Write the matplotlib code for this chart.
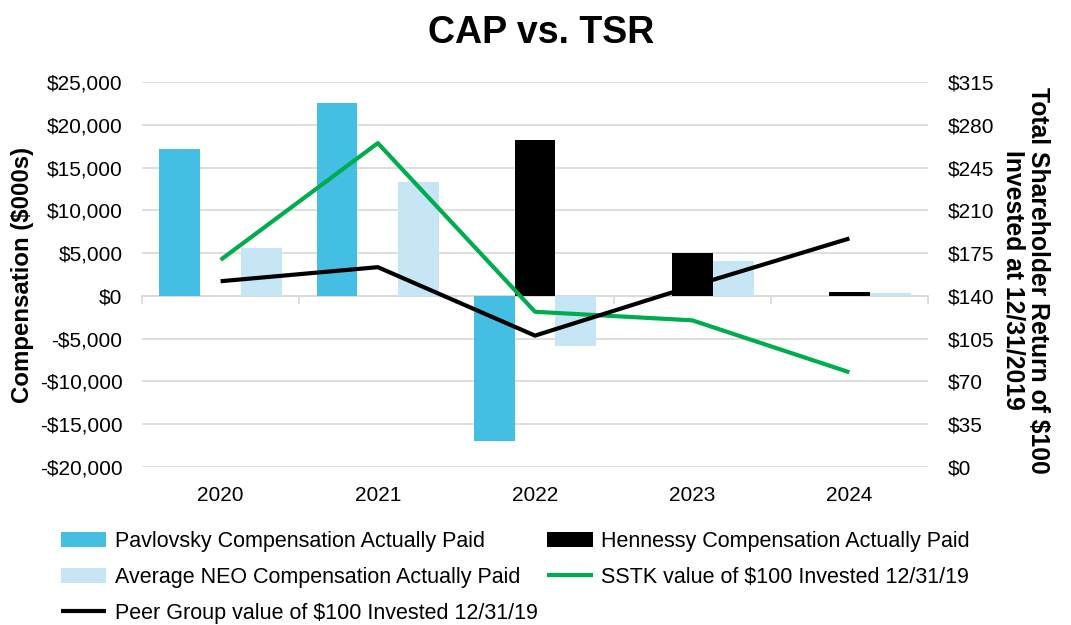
import matplotlib
matplotlib.use("Agg")
import matplotlib.pyplot as plt
import numpy as np
from matplotlib.ticker import FuncFormatter, MultipleLocator

plt.rcParams['font.family'] = ['Liberation Sans', 'DejaVu Sans']

years = ["2020", "2021", "2022", "2023", "2024"]
pavlovsky = [17150, 22500, -17000, np.nan, np.nan]
hennessy = [np.nan, np.nan, 18200, 5000, 400]
avg_neo = [5600, 13350, -5800, 4100, 300]
sstk = [169.5, 265, 127, 120, 77.5]
peer = [152, 163.5, 107.5, 148, 187]

c_pav = "#45BEE3"
c_neo = "#C6E6F6"
c_hen = "#000000"
c_sstk = "#00AD4E"
c_peer = "#000000"

fig = plt.figure(figsize=(10.71, 6.25), dpi=100)
ax = fig.add_axes([0.1326, 0.2528, 0.7339, 0.616])
ax2 = ax.twinx()

x = np.arange(len(years))
w = 0.26
b1 = ax.bar(x - w, pavlovsky, w, color=c_pav, zorder=2, label="Pavlovsky Compensation Actually Paid")
b2 = ax.bar(x, hennessy, w, color=c_hen, zorder=2, label="Hennessy Compensation Actually Paid")
b3 = ax.bar(x + w, avg_neo, w, color=c_neo, zorder=2, label="Average NEO Compensation Actually Paid")

l1, = ax2.plot(x, sstk, color=c_sstk, lw=3, solid_capstyle='butt', label="SSTK value of $100 Invested 12/31/19")
l2, = ax2.plot(x, peer, color=c_peer, lw=3, solid_capstyle='butt', label="Peer Group value of $100 Invested 12/31/19")

ymin, ymax = -20000, 25000
ax.set_ylim(ymin, ymax)
ax.set_xlim(-0.5, len(years) - 0.5)
ax.yaxis.set_major_locator(MultipleLocator(5000))
ax.yaxis.set_major_formatter(FuncFormatter(lambda v, p: ("-$" if v < 0 else "$") + f"{abs(int(v)):,}"))
ax.grid(axis='y', color='#D9D9D9', lw=1.2, zorder=0)
ax.set_axisbelow(True)
ax.set_xticks(x)
ax.set_xticklabels(years)
ax.tick_params(axis='x', length=0, pad=14, labelsize=15)
ax.tick_params(axis='y', length=0, pad=14, labelsize=15)
for s in ax.spines.values():
    s.set_visible(False)

ax2.set_ylim(0, 315)
ax2.yaxis.set_major_locator(MultipleLocator(35))
ax2.yaxis.set_major_formatter(FuncFormatter(lambda v, p: f"${int(v)}"))
ax2.tick_params(axis='y', length=0, pad=14, labelsize=15)
for s in ax2.spines.values():
    s.set_visible(False)

# category axis line at zero with boundary ticks
zero_loc = (0 - ymin) / (ymax - ymin)
sec = ax.secondary_xaxis(zero_loc)
sec.set_xticks(np.arange(len(years) + 1) - 0.5)
sec.set_xticklabels([])
sec.tick_params(axis='x', direction='out', length=6, color='#D9D9D9', width=1.2)
sec.spines['bottom'].set_color('#D9D9D9')
sec.spines['bottom'].set_linewidth(1.2)

fig.text(0.505, 0.947, "CAP vs. TSR", ha='center', va='center', fontsize=27, fontweight='bold')
fig.text(0.021, 0.56, "Compensation ($000s)", rotation=90, ha='center', va='center',
         fontsize=17.3, fontweight='bold')
fig.text(0.958, 0.552, "Total Shareholder Return of $100\nInvested at 12/31/2019", rotation=270,
         ha='center', va='center', multialignment='center', fontsize=17.8, fontweight='bold',
         linespacing=1.05)

handles = [b1, b3, l2, b2, l1]
labels = [h.get_label() for h in handles]
fig.legend(handles, labels, ncol=2, loc='upper left', bbox_to_anchor=(0.057, 0.151),
           frameon=False, fontsize=15.5, handlelength=2.1, handletextpad=0.4,
           columnspacing=0.45, labelspacing=0.7, borderpad=0, borderaxespad=0)

fig.savefig("out.png", dpi=100)
